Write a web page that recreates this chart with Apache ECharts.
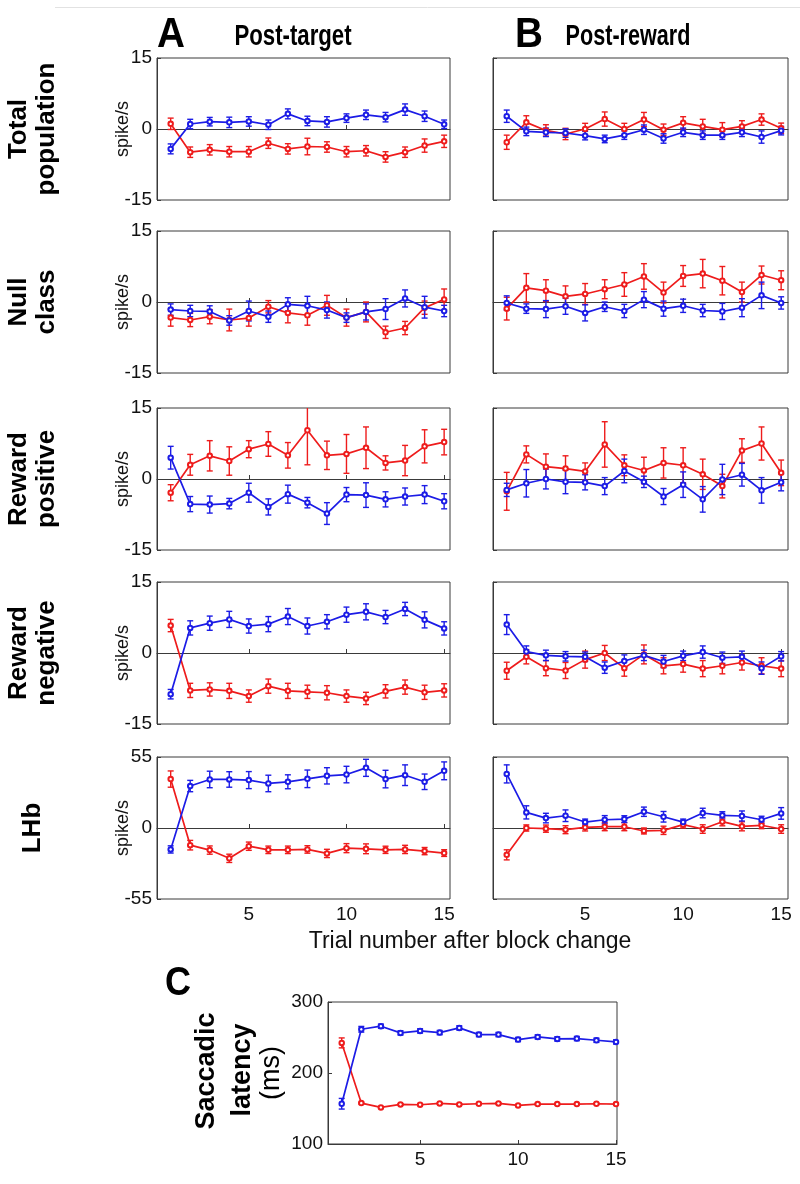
<!DOCTYPE html>
<html><head><meta charset="utf-8">
<script src="https://cdn.jsdelivr.net/npm/echarts@6/dist/echarts.min.js"></script>
<style>html,body{margin:0;padding:0;background:#fff}#c{width:800px;height:1184px}</style>
</head><body><div id="c"></div>
<script>
const trials = [1,2,3,4,5,6,7,8,9,10,11,12,13,14,15];
const xTickValues = [5,10,15];

// Total population
const totTgtBlue    = [-4.2,1.05,1.55,1.4,1.6,0.9,3.2,1.7,1.5,2.3,3.0,2.5,4.1,2.7,1.0];
const totTgtBlueErr = [1.05,1.0,0.9,1.1,1.0,1.0,1.05,1.0,1.1,0.9,1.0,1.0,1.2,1.1,0.9];
const totTgtRed     = [1.1,-4.9,-4.4,-4.8,-4.8,-3.0,-4.2,-3.7,-3.8,-4.8,-4.6,-5.9,-4.9,-3.5,-2.6];
const totTgtRedErr  = [1.2,1.1,1.1,1.1,1.1,1.1,1.1,1.75,1.1,1.1,1.1,1.1,1.1,1.4,1.3];
const totRwdBlue    = [2.7,-0.5,-0.7,-0.85,-1.4,-2.1,-1.3,-0.15,-2.0,-0.7,-1.3,-1.3,-0.7,-1.7,-0.35];
const totRwdBlueErr = [1.3,0.9,0.9,0.9,0.9,0.8,0.9,1.0,1.0,0.9,0.9,0.9,0.9,1.3,0.9];
const totRwdRed     = [-2.8,1.4,-0.3,-1.05,0,2.1,0,2.0,-0.15,1.3,0.55,-0.15,0.55,2.0,0.15];
const totRwdRedErr  = [1.5,1.4,1.2,1.2,1.2,1.5,1.2,1.5,1.2,1.3,1.5,1.5,1.2,1.2,1.1];

// Null class
const nulTgtBlue    = [-1.6,-1.9,-2.0,-3.9,-1.9,-3.1,-0.5,-0.8,-1.7,-3.3,-2.1,-1.5,0.75,-1.1,-1.9];
const nulTgtBlueErr = [1.2,1.2,1.2,1.0,2.1,1.2,1.4,2.0,1.7,1.0,1.7,2.2,1.8,2.3,1.2];
const nulTgtRed     = [-3.3,-3.8,-3.1,-3.8,-3.4,-1.0,-2.3,-2.8,-0.7,-3.3,-2.1,-6.4,-5.5,-1.2,0.55];
const nulTgtRedErr  = [1.8,1.4,1.5,2.3,1.7,1.3,2.1,2.1,2.1,1.8,2.1,1.3,1.4,1.4,2.2];
const nulRwdBlue    = [-0.2,-1.4,-1.5,-0.9,-2.3,-1.0,-1.9,0.5,-1.4,-0.8,-1.8,-2.0,-1.2,1.4,-0.2];
const nulRwdBlueErr = [1.5,1.0,1.8,1.7,1.7,1.0,1.4,1.7,1.6,1.4,1.3,1.7,1.9,2.8,1.3];
const nulRwdRed     = [-1.4,3.0,2.4,1.2,1.7,2.7,3.7,5.4,2.0,5.5,6.0,4.5,2.1,5.7,4.6];
const nulRwdRedErr  = [2.4,3.0,2.3,2.2,2.2,2.0,2.5,2.7,2.2,2.2,3.0,3.0,2.1,1.9,2.0];

// Reward positive
const posTgtBlue    = [4.5,-5.3,-5.4,-5.2,-2.9,-5.9,-3.2,-5.0,-7.3,-3.3,-3.4,-4.3,-3.7,-3.3,-4.7];
const posTgtBlueErr = [2.4,1.6,1.8,1.1,2.0,1.7,1.9,1.1,2.3,1.5,2.6,1.6,1.8,1.9,1.6];
const posTgtRed     = [-2.9,3.0,4.9,3.8,6.3,7.4,5.0,10.3,5.0,5.3,6.6,3.4,3.9,6.9,7.8];
const posTgtRedErr  = [1.7,2.2,3.2,3.0,1.8,2.6,2.7,7.3,3.0,4.1,4.4,1.5,3.2,3.5,2.7];
const posRwdBlue    = [-2.3,-0.9,0,-0.6,-0.7,-1.5,1.7,-0.6,-3.7,-1.2,-4.3,-0.1,0.9,-2.4,-0.7];
const posRwdBlueErr = [1.4,2.9,2.1,2.5,1.6,1.8,2.5,1.2,1.7,2.7,2.7,3.2,2.4,2.7,1.8];
const posRwdRed     = [-2.6,5.2,2.6,2.2,1.6,7.3,2.9,1.8,3.4,2.9,1.0,-1.5,6.0,7.5,1.3];
const posRwdRedErr  = [4.0,1.8,2.7,2.7,1.8,4.8,2.2,2.8,3.2,3.7,3.2,2.5,2.5,3.5,2.7];

// Reward negative
const negTgtBlue    = [-8.7,5.3,6.3,7.1,5.7,6.1,7.7,5.7,6.6,8.1,8.7,7.6,9.3,7.0,5.2];
const negTgtBlueErr = [1.0,1.5,1.5,1.7,1.5,1.6,1.7,1.7,1.5,1.6,1.7,1.4,1.4,1.7,1.4];
const negTgtRed     = [5.8,-7.9,-7.7,-8.0,-9.1,-7.0,-8.0,-8.2,-8.4,-9.1,-9.6,-8.1,-7.2,-8.3,-7.9];
const negTgtRedErr  = [1.3,1.5,1.4,1.6,1.3,1.5,1.6,1.4,1.5,1.3,1.3,1.4,1.5,1.5,1.4];
const negRwdBlue    = [6.0,0.3,-0.5,-0.7,-0.8,-3.1,-1.7,-0.5,-1.8,-0.6,0.2,-1.0,-0.8,-3.2,-0.7];
const negRwdBlueErr = [2.1,1.2,1.1,1.0,1.0,1.2,1.3,1.1,1.3,1.0,1.3,1.2,1.2,1.3,1.0];
const negRwdRed     = [-3.75,-0.8,-3.2,-3.7,-1.4,0,-3.2,-0.3,-2.7,-2.35,-3.3,-2.7,-2.0,-2.7,-3.3];
const negRwdRedErr  = [1.8,1.5,1.6,1.7,1.8,1.6,1.7,2.0,1.7,1.7,1.7,1.7,1.6,1.7,1.7];

// LHb
const lhbTgtBlue    = [-16.6,32.5,37.6,37.6,37.1,34.5,35.8,38.1,40.4,41.4,46.6,37.9,40.9,35.8,44.3];
const lhbTgtBlueErr = [2.8,4.4,6.4,6.0,6.6,6.4,5.4,6.8,6.3,6.4,6.6,6.8,8.0,6.0,6.9];
const lhbTgtRed     = [37.9,-13.3,-17.1,-23.5,-14.1,-16.9,-16.9,-16.6,-19.7,-15.6,-16.1,-16.9,-16.6,-17.9,-19.4];
const lhbTgtRedErr  = [6.3,3.7,3.2,3.2,3.2,2.9,2.9,2.9,3.2,3.5,3.8,2.8,3.2,2.8,2.6];
const lhbRwdBlue    = [41.9,12.1,7.7,9.5,4.6,6.4,6.9,12.6,8.7,4.6,11.6,9.8,9.3,6.4,11.3];
const lhbRwdBlueErr = [7.0,5.1,3.7,4.5,2.3,3.2,2.6,3.6,4.1,2.3,3.7,2.8,3.9,2.7,4.5];
const lhbRwdRed     = [-20.8,0,-0.5,-1.3,0.5,1.0,1.0,-2.3,-1.8,2.6,-0.8,4.9,1.3,2.1,-0.8];
const lhbRwdRedErr  = [3.9,2.4,2.8,3.1,2.8,3.1,3.1,2.3,3.2,2.6,3.3,3.2,3.5,2.6,3.3];

// Saccadic latency (ms)
const latBlue    = [156.7,261.6,265.9,256.5,259.3,256.9,263.5,254.1,254.1,247.1,250.8,248.0,248.5,246.1,243.8];
const latBlueErr = [7.5,4,3,3,3,3,3,3,3,3,3,3,3,3,3];
const latRed     = [242.4,157.6,151.5,155.8,155.3,157.2,155.8,156.7,157.2,154.4,156.2,156.2,156.2,156.7,156.2];
const latRedErr  = [7,1.2,1,1,1,1,1,1,1,1,1,1,1,1,1];

const rowLabels = [['Total','population'],['Null','class'],['Reward','positive'],['Reward','negative'],['LHb']];
const colTitles = ['Post-target','Post-reward'];

const BLUE = '#1c1ce6';
const RED = '#ee1c1c';
const FONT = 'Arial, "Liberation Sans", sans-serif';
const AXC = '#3a3a3a';

const panelData = [
  [[totTgtBlue,totTgtBlueErr,totTgtRed,totTgtRedErr],[totRwdBlue,totRwdBlueErr,totRwdRed,totRwdRedErr]],
  [[nulTgtBlue,nulTgtBlueErr,nulTgtRed,nulTgtRedErr],[nulRwdBlue,nulRwdBlueErr,nulRwdRed,nulRwdRedErr]],
  [[posTgtBlue,posTgtBlueErr,posTgtRed,posTgtRedErr],[posRwdBlue,posRwdBlueErr,posRwdRed,posRwdRedErr]],
  [[negTgtBlue,negTgtBlueErr,negTgtRed,negTgtRedErr],[negRwdBlue,negRwdBlueErr,negRwdRed,negRwdRedErr]],
  [[lhbTgtBlue,lhbTgtBlueErr,lhbTgtRed,lhbTgtRedErr],[lhbRwdBlue,lhbRwdBlueErr,lhbRwdRed,lhbRwdRedErr]]
];

const rowTops = [58, 231, 408, 582, 757];
const rowH = 142;
const colLefts = [157, 493];
const colW = [293, 295];

const grids = [], xAxes = [], yAxes = [], series = [], graphics = [];

function errSeries(idx, vals, errs, color) {
  return {
    type: 'custom', xAxisIndex: idx, yAxisIndex: idx, clip: true, silent: true, z: 3,
    data: trials.map((t, i) => [t, vals[i] - errs[i], vals[i] + errs[i]]),
    encode: { x: 0, y: [1, 2] },
    renderItem: function (p, api) {
      const x = api.value(0);
      const a = api.coord([x, api.value(1)]);
      const b = api.coord([x, api.value(2)]);
      const w = 3;
      const st = { stroke: color, lineWidth: 1.4 };
      return { type: 'group', children: [
        { type: 'line', shape: { x1: a[0], y1: a[1], x2: b[0], y2: b[1] }, style: st },
        { type: 'line', shape: { x1: a[0]-w, y1: a[1], x2: a[0]+w, y2: a[1] }, style: st },
        { type: 'line', shape: { x1: b[0]-w, y1: b[1], x2: b[0]+w, y2: b[1] }, style: st }
      ]};
    }
  };
}
function lineSeries(idx, vals, color) {
  return {
    type: 'line', xAxisIndex: idx, yAxisIndex: idx, z: 4,
    data: trials.map((t, i) => [t, vals[i]]),
    symbol: 'emptyCircle', symbolSize: 4.5, showSymbol: true,
    lineStyle: { color: color, width: 1.7 },
    itemStyle: { color: color, borderColor: color, borderWidth: 1.2 }
  };
}

function addPanel(left, top, width, height, xMax, yMin, yMax, yInt, showYLabels, showXLabels, yName) {
  const idx = grids.length;
  grids.push({ left: left, top: top, width: width, height: height, show: true, borderColor: AXC, borderWidth: 1, backgroundColor: 'transparent' });
  xAxes.push({
    gridIndex: idx, type: 'value', min: 0.3, max: xMax,
    axisLine: { show: true, lineStyle: { color: AXC, width: 1 } },
    axisTick: { show: true, inside: true, length: 4, customValues: xTickValues, lineStyle: { color: AXC } },
    axisLabel: { show: showXLabels, customValues: xTickValues, fontSize: 19, color: '#111', fontFamily: FONT, margin: 6 },
    splitLine: { show: false }
  });
  yAxes.push({
    gridIndex: idx, type: 'value', min: yMin, max: yMax, interval: yInt,
    name: yName || '', nameLocation: 'middle', nameGap: 25, nameRotate: 90, nameMoveOverlap: false,
    nameTextStyle: { fontSize: 18, color: '#111', fontFamily: FONT },
    axisLine: { show: true, lineStyle: { color: AXC, width: 1 } },
    axisTick: { show: true, inside: true, length: 4, lineStyle: { color: AXC } },
    axisLabel: { show: showYLabels, fontSize: 19, color: '#111', fontFamily: FONT, margin: 5 },
    splitLine: { show: false }
  });
  return idx;
}

for (let r = 0; r < 5; r++) {
  for (let c = 0; c < 2; c++) {
    const lim = r === 4 ? 55 : 15;
    const idx = addPanel(colLefts[c], rowTops[r], colW[c], rowH, c === 0 ? 15.3 : 15.35,
      -lim, lim, lim, c === 0, r === 4, c === 0 ? 'spike/s' : '');
    const d = panelData[r][c];
    series.push(errSeries(idx, d[2], d[3], RED));
    series.push(errSeries(idx, d[0], d[1], BLUE));
    series.push(lineSeries(idx, d[2], RED));
    series.push(lineSeries(idx, d[0], BLUE));
  }
  const lbl = rowLabels[r];
  graphics.push({
    type: 'text', x: 33, y: rowTops[r] + rowH / 2, rotation: Math.PI / 2,
    style: { text: lbl.join('\n'), font: 'bold 26px ' + FONT, fill: '#000', align: 'center', verticalAlign: 'middle', lineHeight: 28 }
  });
}

// Panel C
const cIdx = addPanel(328, 1002, 289, 142, 15.05, 100, 300, 100, true, true, '');
series.push(errSeries(cIdx, latRed, latRedErr, RED));
series.push(errSeries(cIdx, latBlue, latBlueErr, BLUE));
series.push(lineSeries(cIdx, latRed, RED));
series.push(lineSeries(cIdx, latBlue, BLUE));

function hText(txt, x, y, font, sx) {
  return { type: 'text', x: x, y: y, scaleX: sx || 1, style: { text: txt, font: font, fill: '#000', align: 'center', verticalAlign: 'middle' } };
}
function vText(txt, x, y, font) {
  return { type: 'text', x: x, y: y, rotation: Math.PI / 2, style: { text: txt, font: font, fill: '#000', align: 'center', verticalAlign: 'middle' } };
}

graphics.push(
  { type: 'line', shape: { x1: 55, y1: 7.5, x2: 800, y2: 7.5 }, style: { stroke: '#e2e2e2', lineWidth: 1 } },
  hText('A', 171, 35, 'bold 43px ' + FONT, 0.9),
  hText(colTitles[0], 293, 37, 'bold 30px ' + FONT, 0.74),
  hText('B', 529, 35, 'bold 43px ' + FONT, 0.9),
  hText(colTitles[1], 628, 37, 'bold 30px ' + FONT, 0.72),
  { type: 'text', x: 470, y: 942, style: { text: 'Trial number after block change', font: '23px ' + FONT, fill: '#111', align: 'center', verticalAlign: 'middle' } },
  hText('C', 178, 984, 'bold 40px ' + FONT, 0.9),
  vText('Saccadic', 207, 1071, 'bold 27px ' + FONT),
  vText('latency', 243, 1070, 'bold 27px ' + FONT),
  vText('(ms)', 272, 1073, '27px ' + FONT)
);

const chart = echarts.init(document.getElementById('c'), null, { renderer: 'canvas' });
chart.setOption({
  animation: false,
  backgroundColor: '#fff',
  grid: grids, xAxis: xAxes, yAxis: yAxes, series: series, graphic: graphics
});
</script></body></html>
